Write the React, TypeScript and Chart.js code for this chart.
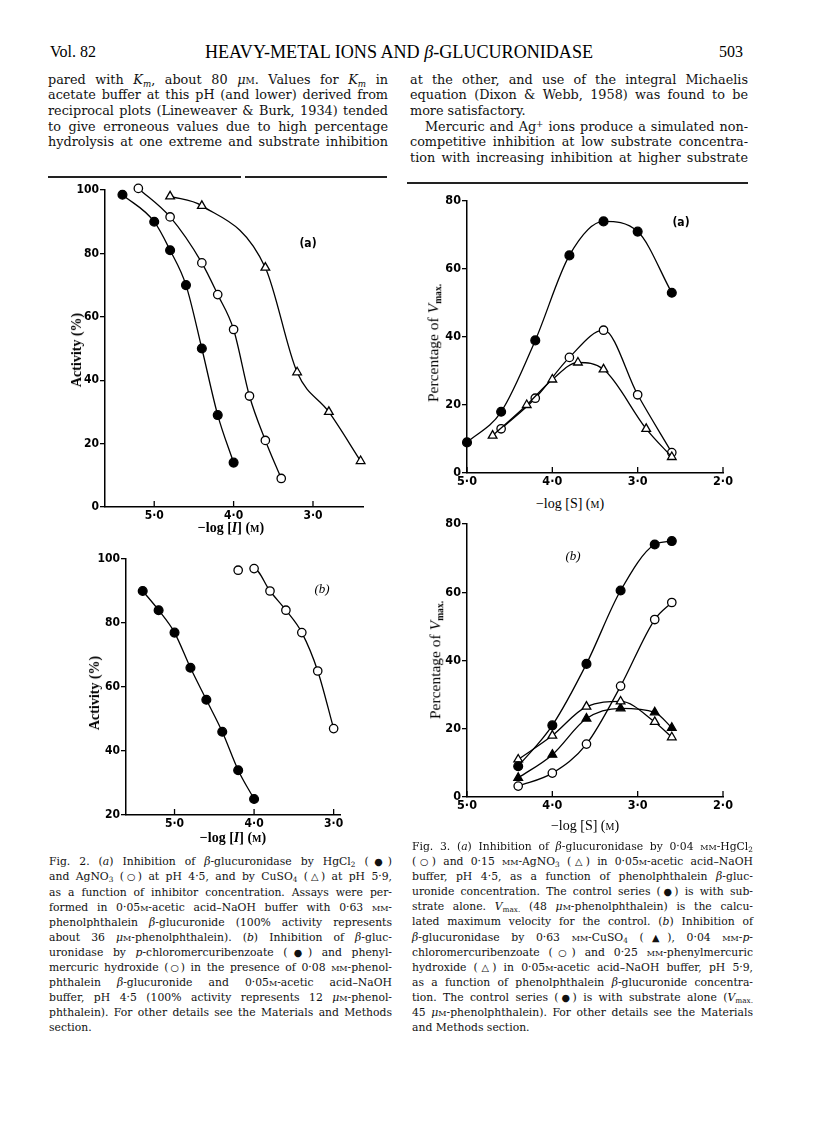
import React, { useEffect, useRef } from "react";
import { Chart, registerables } from "chart.js";
Chart.register(...registerables);

// ---------- tick values / labels ----------
const FIG2_X_TICKS = [5, 4, 3];
const FIG2_X_TICK_LABELS = ["5·0", "4·0", "3·0"];
const FIG3_X_TICKS = [5, 4, 3, 2];
const FIG3_X_TICK_LABELS = ["5·0", "4·0", "3·0", "2·0"];
const FIG2A_Y_TICKS = [0, 20, 40, 60, 80, 100];
const FIG2B_Y_TICKS = [20, 40, 60, 80, 100];
const FIG3_Y_TICKS = [0, 20, 40, 60, 80];

// ---------- Fig. 2(a): activity (%) vs -log[I] ----------
const F2A_HGCL2_X = [5.4, 5.0, 4.8, 4.6, 4.4, 4.2, 4.0];
const F2A_HGCL2_Y = [98.5, 90, 81, 70, 50, 29, 14];
const F2A_AGNO3_X = [5.2, 4.8, 4.4, 4.2, 4.0, 3.8, 3.6, 3.4];
const F2A_AGNO3_Y = [100.5, 91.5, 77, 67, 56, 35, 21, 9];
const F2A_CUSO4_X = [4.8, 4.4, 3.6, 3.2, 2.8, 2.4];
const F2A_CUSO4_Y = [98, 95, 75.5, 42.5, 30, 14.5];

// ---------- Fig. 2(b) ----------
const F2B_PCMB_X = [5.4, 5.2, 5.0, 4.8, 4.6, 4.4, 4.2, 4.0];
const F2B_PCMB_Y = [90, 84, 77, 66, 56, 46, 34, 25];
const F2B_PMH_X = [4.2, 4.0, 3.8, 3.6, 3.4, 3.2, 3.0];
const F2B_PMH_Y = [96.5, 97, 90, 84, 77, 65, 47];

// ---------- Fig. 3(a): % of Vmax vs -log[S] ----------
const F3A_CONTROL_X = [5.0, 4.6, 4.2, 3.8, 3.4, 3.0, 2.6];
const F3A_CONTROL_Y = [9, 18, 39, 64, 74, 71, 53];
const F3A_HGCL2_X = [4.6, 4.2, 3.8, 3.4, 3.0, 2.6];
const F3A_HGCL2_Y = [13, 22, 34, 42, 23, 6];
const F3A_AGNO3_X = [4.7, 4.3, 4.0, 3.7, 3.4, 2.9, 2.6];
const F3A_AGNO3_Y = [11, 20, 27.5, 32.5, 30.5, 13, 4.7];

// ---------- Fig. 3(b) ----------
const F3B_X = [4.4, 4.0, 3.6, 3.2, 2.8, 2.6];
const F3B_CONTROL_Y = [9, 21, 39, 60.5, 74, 75];
const F3B_PCMB_Y = [3.2, 7, 15.5, 32.5, 52, 57];
const F3B_CUSO4_Y = [5.6, 12.4, 23, 26, 24.8, 20.3];
const F3B_PMH_Y = [11, 18, 26.5, 28, 22, 17.5];

type Mark = "disc" | "ring" | "tri" | "solidTri";
interface SeriesDef {
  x: number[];
  y: number[];
  mark: Mark;
  lineFrom?: number;
}
interface Box { left: number; top: number; width: number; height: number }
interface Area { l: number; t: number; r: number; b: number }

const TICK_FONT = "'Liberation Sans Narrow', 'DejaVu Sans Condensed', 'Arial Narrow', sans-serif";

const inwardTicks = {
  id: "inwardTicks",
  afterDraw(chart: any) {
    const xs = chart.scales.x;
    const ctx = chart.ctx;
    ctx.save();
    ctx.strokeStyle = "#000";
    ctx.lineWidth = 1.3;
    xs.ticks.forEach((t: any) => {
      const px = xs.getPixelForValue(t.value);
      ctx.beginPath();
      ctx.moveTo(px, xs.top);
      ctx.lineTo(px, xs.top - 6);
      ctx.stroke();
    });
    ctx.restore();
  },
};

function Panel(props: {
  box: Box;
  area: Area;
  xMin: number;
  xMax: number;
  yMin: number;
  yMax: number;
  xTicks: number[];
  xLabels: string[];
  yTicks: number[];
  series: SeriesDef[];
  tickSize: number;
}) {
  const ref = useRef<HTMLCanvasElement>(null);
  useEffect(() => {
    const { box, area } = props;
    const datasets = props.series.map((s) => {
      const filled = s.mark === "disc" || s.mark === "solidTri";
      const circle = s.mark === "disc" || s.mark === "ring";
      const from = s.lineFrom ?? 0;
      return {
        data: s.x.map((x, i) => ({ x, y: s.y[i] })),
        borderColor: "#000",
        borderWidth: 1.3,
        fill: false,
        cubicInterpolationMode: "monotone" as const,
        pointStyle: circle ? "circle" : "triangle",
        pointRadius: circle ? (filled ? 4.4 : 4.2) : 5,
        pointBackgroundColor: filled ? "#000" : "#fff",
        pointBorderColor: "#000",
        pointBorderWidth: 1.3,
        clip: false as any,
        segment: {
          borderColor: (c: any) => (c.p0DataIndex < from ? "rgba(0,0,0,0)" : "#000"),
        },
      };
    });
    const labelOf = (v: number) => {
      const i = props.xTicks.indexOf(v);
      return i >= 0 ? props.xLabels[i] : "";
    };
    const chart = new Chart(ref.current as HTMLCanvasElement, {
      type: "line",
      data: { datasets: datasets as any },
      plugins: [inwardTicks],
      options: {
        responsive: false,
        animation: false,
        devicePixelRatio: 1,
        layout: {
          padding: {
            top: area.t - box.top,
            right: box.left + box.width - area.r,
            left: 0,
            bottom: 0,
          },
        },
        plugins: {
          legend: { display: false },
          tooltip: { enabled: false },
          title: { display: false },
        },
        scales: {
          x: {
            type: "linear",
            reverse: true,
            min: props.xMin,
            max: props.xMax,
            grid: { display: false, drawTicks: false },
            border: { display: true, color: "#000", width: 1.5 },
            ticks: {
              color: "#000",
              padding: 1.5,
              maxRotation: 0,
              autoSkip: false,
              font: { family: TICK_FONT, size: props.tickSize, weight: "bold" },
              callback: (v: any) => labelOf(Number(v)),
            },
            afterBuildTicks: (s: any) => {
              s.ticks = props.xTicks.map((v) => ({ value: v }));
            },
            afterFit: (s: any) => {
              s.height = box.top + box.height - area.b;
            },
          },
          y: {
            type: "linear",
            min: props.yMin,
            max: props.yMax,
            grid: {
              display: true,
              drawOnChartArea: false,
              drawTicks: true,
              tickLength: 5,
              color: "#000",
              lineWidth: 1.3,
            },
            border: { display: true, color: "#000", width: 1.5 },
            ticks: {
              color: "#000",
              padding: 1,
              font: { family: TICK_FONT, size: props.tickSize, weight: "bold" },
              callback: (v: any) => String(v),
            },
            afterBuildTicks: (s: any) => {
              s.ticks = props.yTicks.map((v) => ({ value: v }));
            },
            afterFit: (s: any) => {
              s.width = area.l - box.left;
            },
          },
        },
      } as any,
    });
    return () => chart.destroy();
  }, []);
  const { box } = props;
  return (
    <canvas
      ref={ref}
      width={box.width}
      height={box.height}
      style={{ position: "absolute", left: box.left, top: box.top, width: box.width, height: box.height }}
    />
  );
}

// ---------- text helpers ----------
const BODY_FONT = "'DejaVu Serif', serif";
const FIG_FONT = "'Liberation Serif', 'Times New Roman', serif";

const SC = ({ children }: { children: any }) => (
  <span style={{ fontVariant: "small-caps" }}>{children}</span>
);
const Sub = ({ children }: { children: any }) => (
  <sub style={{ fontSize: "0.68em", verticalAlign: "-0.3em", lineHeight: 0 }}>{children}</sub>
);
const Sup = ({ children }: { children: any }) => (
  <sup style={{ fontSize: "0.68em", verticalAlign: "0.45em", lineHeight: 0 }}>{children}</sup>
);
const Sym = ({ children }: { children: any }) => (
  <span style={{ fontFamily: "'DejaVu Sans', sans-serif", fontSize: "0.9em", letterSpacing: "-0.05em" }}>{children}</span>
);

function TL(props: {
  left: number;
  cy: number;
  width: number;
  size: number;
  justify?: boolean;
  indent?: number;
  children: any;
}) {
  const lh = Math.round(props.size * 1.25);
  const j = props.justify !== false;
  return (
    <div
      style={{
        position: "absolute",
        left: props.left,
        top: props.cy - lh / 2,
        width: props.width,
        fontFamily: BODY_FONT,
        fontSize: props.size,
        lineHeight: lh + "px",
        textAlign: j ? "justify" : "left",
        textAlignLast: j ? "justify" : "left",
        textIndent: props.indent || 0,
        color: "#111",
      } as any}
    >
      {props.children}
    </div>
  );
}

function Label(props: {
  cx: number;
  cy: number;
  size: number;
  rotate?: boolean;
  bold?: boolean;
  italic?: boolean;
  family?: string;
  children: any;
}) {
  return (
    <div
      style={{
        position: "absolute",
        left: props.cx,
        top: props.cy,
        transform: `translate(-50%, -50%)${props.rotate ? " rotate(-90deg)" : ""}`,
        whiteSpace: "nowrap",
        fontFamily: props.family || FIG_FONT,
        fontSize: props.size,
        fontWeight: props.bold ? "bold" : "normal",
        fontStyle: props.italic ? "italic" : "normal",
        lineHeight: 1,
        color: "#000",
      }}
    >
      {props.children}
    </div>
  );
}

const LogI = () => (
  <span>
    −log [<i>I</i>] (<SC>m</SC>)
  </span>
);
const LogS = () => (
  <span>
    −log [S] (<SC>m</SC>)
  </span>
);
const PctV = () => (
  <span>
    Percentage of <i>V</i>
    <sub style={{ fontSize: "0.62em", verticalAlign: "-0.3em", lineHeight: 0, fontWeight: "bold" }}>max.</sub>
  </span>
);

export default function App() {
  const bodyL = 48, bodyW = 340, bodyR = 410, bodyRW = 338;
  const bodySize = 12.8;
  const lineY = (i: number) => 79.6 + 15.7 * i;
  const capSize = 10.8;
  const cap2Y = (i: number) => 862.3 + 15.1 * i;
  const cap3Y = (i: number) => 846.7 + 15.14 * i;
  const c2L = 49, c2W = 343, c3L = 412, c3W = 341;

  return (
    <div style={{ position: "absolute", left: 0, top: 0, width: 816, height: 1138, background: "#fff", overflow: "hidden" }}>
      {/* running head */}
      <div style={{ position: "absolute", left: 50, top: 42, fontFamily: FIG_FONT, fontSize: 16, lineHeight: "20px" }}>Vol. 82</div>
      <div style={{ position: "absolute", left: 205, top: 41, fontFamily: FIG_FONT, fontSize: 18.1, lineHeight: "22px", whiteSpace: "nowrap" }}>
        HEAVY-METAL IONS AND <i>β</i>-GLUCURONIDASE
      </div>
      <div style={{ position: "absolute", left: 703, top: 42, width: 40, textAlign: "right", fontFamily: FIG_FONT, fontSize: 16, lineHeight: "20px" }}>503</div>

      {/* body text, left column */}
      <TL left={bodyL} cy={lineY(0)} width={bodyW} size={bodySize}>
        pared with <i>K</i><Sub><i>m</i></Sub>, about 80 <i>μ</i><SC>m</SC>. Values for <i>K</i><Sub><i>m</i></Sub> in
      </TL>
      <TL left={bodyL} cy={lineY(1)} width={bodyW} size={bodySize}>acetate buffer at this pH (and lower) derived from</TL>
      <TL left={bodyL} cy={lineY(2)} width={bodyW} size={bodySize}>reciprocal plots (Lineweaver &amp; Burk, 1934) tended</TL>
      <TL left={bodyL} cy={lineY(3)} width={bodyW} size={bodySize}>to give erroneous values due to high percentage</TL>
      <TL left={bodyL} cy={lineY(4)} width={bodyW} size={bodySize}>hydrolysis at one extreme and substrate inhibition</TL>

      {/* body text, right column */}
      <TL left={bodyR} cy={lineY(0)} width={bodyRW} size={bodySize}>at the other, and use of the integral Michaelis</TL>
      <TL left={bodyR} cy={lineY(1)} width={bodyRW} size={bodySize}>equation (Dixon &amp; Webb, 1958) was found to be</TL>
      <TL left={bodyR} cy={lineY(2)} width={bodyRW} size={bodySize} justify={false}>more satisfactory.</TL>
      <TL left={bodyR} cy={lineY(3)} width={bodyRW} size={bodySize} indent={15}>
        Mercuric and Ag<Sup>+</Sup> ions produce a simulated non-
      </TL>
      <TL left={bodyR} cy={lineY(4)} width={bodyRW} size={bodySize}>competitive inhibition at low substrate concentra-</TL>
      <TL left={bodyR} cy={lineY(5)} width={bodyRW} size={bodySize}>tion with increasing inhibition at higher substrate</TL>

      {/* rules */}
      <div style={{ position: "absolute", left: 48, top: 176, width: 193, height: 1.5, background: "#222" }} />
      <div style={{ position: "absolute", left: 245, top: 176, width: 142, height: 1.5, background: "#222" }} />
      <div style={{ position: "absolute", left: 407, top: 182, width: 341, height: 1.5, background: "#222" }} />

      {/* Fig. 2(a) */}
      <Panel
        box={{ left: 55, top: 175, width: 320, height: 355 }}
        area={{ l: 105, t: 190, r: 363, b: 507 }}
        xMin={2.37}
        xMax={5.62}
        yMin={0}
        yMax={100}
        xTicks={FIG2_X_TICKS}
        xLabels={FIG2_X_TICK_LABELS}
        yTicks={FIG2A_Y_TICKS}
        tickSize={12}
        series={[
          { x: F2A_HGCL2_X, y: F2A_HGCL2_Y, mark: "disc" },
          { x: F2A_AGNO3_X, y: F2A_AGNO3_Y, mark: "ring" },
          { x: F2A_CUSO4_X, y: F2A_CUSO4_Y, mark: "tri" },
        ]}
      />
      <Label cx={77} cy={350} size={14} rotate bold>Activity (%)</Label>
      <Label cx={231} cy={528} size={14} bold><LogI /></Label>
      <Label cx={308} cy={243} size={12} bold family={TICK_FONT}>(a)</Label>

      {/* Fig. 2(b) */}
      <Panel
        box={{ left: 70, top: 545, width: 285, height: 290 }}
        area={{ l: 126, t: 559, r: 340, b: 815 }}
        xMin={2.92}
        xMax={5.61}
        yMin={20}
        yMax={100}
        xTicks={FIG2_X_TICKS}
        xLabels={FIG2_X_TICK_LABELS}
        yTicks={FIG2B_Y_TICKS}
        tickSize={12}
        series={[
          { x: F2B_PCMB_X, y: F2B_PCMB_Y, mark: "disc" },
          { x: F2B_PMH_X, y: F2B_PMH_Y, mark: "ring", lineFrom: 1 },
        ]}
      />
      <Label cx={95} cy={693} size={14} rotate bold>Activity (%)</Label>
      <Label cx={233} cy={838} size={14} bold><LogI /></Label>
      <Label cx={322} cy={588} size={13} italic>(<i>b</i>)</Label>

      {/* Fig. 3(a) */}
      <Panel
        box={{ left: 415, top: 190, width: 330, height: 300 }}
        area={{ l: 467, t: 201, r: 723, b: 473 }}
        xMin={2.0}
        xMax={5.0}
        yMin={0}
        yMax={80}
        xTicks={FIG3_X_TICKS}
        xLabels={FIG3_X_TICK_LABELS}
        yTicks={FIG3_Y_TICKS}
        tickSize={12.5}
        series={[
          { x: F3A_CONTROL_X, y: F3A_CONTROL_Y, mark: "disc" },
          { x: F3A_AGNO3_X, y: F3A_AGNO3_Y, mark: "tri" },
          { x: F3A_HGCL2_X, y: F3A_HGCL2_Y, mark: "ring" },
        ]}
      />
      <Label cx={433} cy={343} size={15.5} rotate><PctV /></Label>
      <Label cx={570} cy={504} size={14}><LogS /></Label>
      <Label cx={681} cy={222} size={12} bold family={TICK_FONT}>(a)</Label>

      {/* Fig. 3(b) */}
      <Panel
        box={{ left: 415, top: 512, width: 330, height: 300 }}
        area={{ l: 467, t: 524, r: 723, b: 797 }}
        xMin={2.0}
        xMax={5.0}
        yMin={0}
        yMax={80}
        xTicks={FIG3_X_TICKS}
        xLabels={FIG3_X_TICK_LABELS}
        yTicks={FIG3_Y_TICKS}
        tickSize={12.5}
        series={[
          { x: F3B_X, y: F3B_CONTROL_Y, mark: "disc" },
          { x: F3B_X, y: F3B_PMH_Y, mark: "tri" },
          { x: F3B_X, y: F3B_CUSO4_Y, mark: "solidTri" },
          { x: F3B_X, y: F3B_PCMB_Y, mark: "ring" },
        ]}
      />
      <Label cx={435} cy={660} size={15.5} rotate><PctV /></Label>
      <Label cx={585} cy={826} size={14}><LogS /></Label>
      <Label cx={573} cy={555} size={13} italic>(<i>b</i>)</Label>

      {/* caption Fig. 2 */}
      <TL left={c2L} cy={cap2Y(0)} width={c2W} size={capSize}>
        Fig. 2. (<i>a</i>) Inhibition of <i>β</i>-glucuronidase by HgCl<Sub>2</Sub> (<Sym>●</Sym>)
      </TL>
      <TL left={c2L} cy={cap2Y(1)} width={c2W} size={capSize}>
        and AgNO<Sub>3</Sub> (<Sym>○</Sym>) at pH 4·5, and by CuSO<Sub>4</Sub> (<Sym>△</Sym>) at pH 5·9,
      </TL>
      <TL left={c2L} cy={cap2Y(2)} width={c2W} size={capSize}>as a function of inhibitor concentration. Assays were per-</TL>
      <TL left={c2L} cy={cap2Y(3)} width={c2W} size={capSize}>
        formed in 0·05<SC>m</SC>-acetic acid–NaOH buffer with 0·63 <SC>mm</SC>-
      </TL>
      <TL left={c2L} cy={cap2Y(4)} width={c2W} size={capSize}>phenolphthalein <i>β</i>-glucuronide (100% activity represents</TL>
      <TL left={c2L} cy={cap2Y(5)} width={c2W} size={capSize}>
        about 36 <i>μ</i><SC>m</SC>-phenolphthalein). (<i>b</i>) Inhibition of <i>β</i>-gluc-
      </TL>
      <TL left={c2L} cy={cap2Y(6)} width={c2W} size={capSize}>
        uronidase by <i>p</i>-chloromercuribenzoate (<Sym>●</Sym>) and phenyl-
      </TL>
      <TL left={c2L} cy={cap2Y(7)} width={c2W} size={capSize}>
        mercuric hydroxide (<Sym>○</Sym>) in the presence of 0·08 <SC>mm</SC>-phenol-
      </TL>
      <TL left={c2L} cy={cap2Y(8)} width={c2W} size={capSize}>
        phthalein <i>β</i>-glucuronide and 0·05<SC>m</SC>-acetic acid–NaOH
      </TL>
      <TL left={c2L} cy={cap2Y(9)} width={c2W} size={capSize}>
        buffer, pH 4·5 (100% activity represents 12 <i>μ</i><SC>m</SC>-phenol-
      </TL>
      <TL left={c2L} cy={cap2Y(10)} width={c2W} size={capSize}>phthalein). For other details see the Materials and Methods</TL>
      <TL left={c2L} cy={cap2Y(11)} width={c2W} size={capSize} justify={false}>section.</TL>

      {/* caption Fig. 3 */}
      <TL left={c3L} cy={cap3Y(0)} width={c3W} size={capSize}>
        Fig. 3. (<i>a</i>) Inhibition of <i>β</i>-glucuronidase by 0·04 <SC>mm</SC>-HgCl<Sub>2</Sub>
      </TL>
      <TL left={c3L} cy={cap3Y(1)} width={c3W} size={capSize}>
        (<Sym>○</Sym>) and 0·15 <SC>mm</SC>-AgNO<Sub>3</Sub> (<Sym>△</Sym>) in 0·05<SC>m</SC>-acetic acid–NaOH
      </TL>
      <TL left={c3L} cy={cap3Y(2)} width={c3W} size={capSize}>
        buffer, pH 4·5, as a function of phenolphthalein <i>β</i>-gluc-
      </TL>
      <TL left={c3L} cy={cap3Y(3)} width={c3W} size={capSize}>
        uronide concentration. The control series (<Sym>●</Sym>) is with sub-
      </TL>
      <TL left={c3L} cy={cap3Y(4)} width={c3W} size={capSize}>
        strate alone. <i>V</i><Sub>max.</Sub> (48 <i>μ</i><SC>m</SC>-phenolphthalein) is the calcu-
      </TL>
      <TL left={c3L} cy={cap3Y(5)} width={c3W} size={capSize}>
        lated maximum velocity for the control. (<i>b</i>) Inhibition of
      </TL>
      <TL left={c3L} cy={cap3Y(6)} width={c3W} size={capSize}>
        <i>β</i>-glucuronidase by 0·63 <SC>mm</SC>-CuSO<Sub>4</Sub> (<Sym>▲</Sym>), 0·04 <SC>mm</SC>-<i>p</i>-
      </TL>
      <TL left={c3L} cy={cap3Y(7)} width={c3W} size={capSize}>
        chloromercuribenzoate (<Sym>○</Sym>) and 0·25 <SC>mm</SC>-phenylmercuric
      </TL>
      <TL left={c3L} cy={cap3Y(8)} width={c3W} size={capSize}>
        hydroxide (<Sym>△</Sym>) in 0·05<SC>m</SC>-acetic acid–NaOH buffer, pH 5·9,
      </TL>
      <TL left={c3L} cy={cap3Y(9)} width={c3W} size={capSize}>
        as a function of phenolphthalein <i>β</i>-glucuronide concentra-
      </TL>
      <TL left={c3L} cy={cap3Y(10)} width={c3W} size={capSize}>
        tion. The control series (<Sym>●</Sym>) is with substrate alone (<i>V</i><Sub>max.</Sub>
      </TL>
      <TL left={c3L} cy={cap3Y(11)} width={c3W} size={capSize}>
        45 <i>μ</i><SC>m</SC>-phenolphthalein). For other details see the Materials
      </TL>
      <TL left={c3L} cy={cap3Y(12)} width={c3W} size={capSize} justify={false}>and Methods section.</TL>
    </div>
  );
}
